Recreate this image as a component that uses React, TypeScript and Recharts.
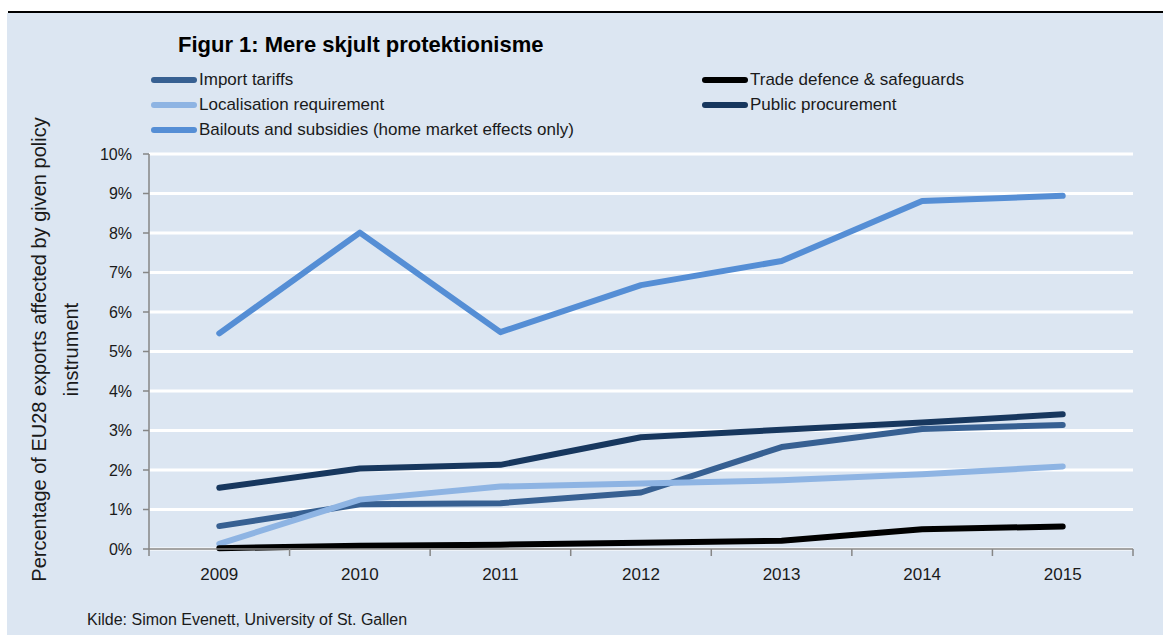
import React from 'react';
import { LineChart, Line, XAxis, YAxis, CartesianGrid } from 'recharts';

// ─── data ────────────────────────────────────────────────────────────────────
const years = [2009, 2010, 2011, 2012, 2013, 2014, 2015];
const importTariffs = [0.58, 1.13, 1.16, 1.43, 2.58, 3.04, 3.14];
const tradeDefence = [0.02, 0.08, 0.11, 0.16, 0.21, 0.5, 0.57];
const localisation = [0.13, 1.25, 1.58, 1.66, 1.74, 1.89, 2.09];
const publicProcurement = [1.55, 2.04, 2.13, 2.83, 3.02, 3.2, 3.41];
const bailouts = [5.46, 8.01, 5.49, 6.68, 7.29, 8.81, 8.94];
const yTicks = [0, 1, 2, 3, 4, 5, 6, 7, 8, 9, 10];

const series = [
  { key: 'tariffs', name: 'Import tariffs', color: '#376092', values: importTariffs },
  { key: 'defence', name: 'Trade defence & safeguards', color: '#000000', values: tradeDefence },
  { key: 'local', name: 'Localisation requirement', color: '#8EB4E3', values: localisation },
  { key: 'procure', name: 'Public procurement', color: '#17375E', values: publicProcurement },
  { key: 'bailout', name: 'Bailouts and subsidies (home market effects only)', color: '#558ED5', values: bailouts },
];

// draw order: dark lines under the lighter ones like the original
const drawOrder = ['procure', 'tariffs', 'local', 'defence', 'bailout'];

const data = years.map((y, i) => {
  const row: Record<string, number> = { year: y };
  series.forEach((s) => (row[s.key] = s.values[i]));
  return row;
});

// category boundaries get tick marks, centres get labels
const xTicks = [years[0] - 0.5, ...years.flatMap((y) => [y, y + 0.5])];

const FONT = "'Liberation Sans', Arial, sans-serif";
const TEXT = '#1a1a1a';
const AXIS = '#868686';

const XTick = (props: any) => {
  const { x, y, payload } = props;
  if (Number.isInteger(payload.value)) {
    return (
      <text x={x} y={y + 31} textAnchor="middle" fill={TEXT} fontSize={17} fontFamily={FONT}>
        {payload.value}
      </text>
    );
  }
  return <line x1={x} x2={x} y1={y} y2={y + 7} stroke={AXIS} strokeWidth={1.5} />;
};

const YLabel = (props: any) => {
  const { viewBox } = props;
  const cy = viewBox.y + viewBox.height / 2 - 2;
  return (
    <text
      transform={`translate(46, ${cy}) rotate(-90)`}
      textAnchor="middle"
      fill={TEXT}
      fontSize={20}
      fontFamily={FONT}
    >
      <tspan x={0} y={0}>Percentage of EU28 exports affected by given policy</tspan>
      <tspan x={0} y={32}>instrument</tspan>
    </text>
  );
};

const ChartLegend = () => (
  <div
    style={{
      position: 'absolute',
      left: 151,
      top: 67,
      display: 'grid',
      gridTemplateColumns: '551px 300px',
      fontFamily: FONT,
      fontSize: 17,
      color: TEXT,
    }}
  >
    {series.map((s) => (
      <div key={s.key} style={{ display: 'flex', alignItems: 'center', height: 25 }}>
        <span
          style={{
            display: 'inline-block',
            width: 46,
            height: 6,
            borderRadius: 3,
            background: s.color,
            marginRight: 2,
          }}
        />
        <span>{s.name}</span>
      </div>
    ))}
  </div>
);

export default function App() {
  return (
    <div style={{ position: 'absolute', left: 0, top: 0, width: 1163, height: 635, background: '#fff' }}>
      <div style={{ position: 'absolute', left: 8, top: 11, right: 0, height: 2, background: '#000' }} />
      <div style={{ position: 'absolute', left: 7, top: 13, right: 0, bottom: 0, background: '#DCE6F2' }} />
      <div
        style={{
          position: 'absolute',
          left: 178,
          top: 32,
          fontFamily: FONT,
          fontWeight: 'bold',
          fontSize: 22,
          color: '#000',
        }}
      >
        Figur 1: Mere skjult protektionisme
      </div>
      <ChartLegend />
      <div
        style={{
          position: 'absolute',
          left: 87,
          top: 611,
          fontFamily: FONT,
          fontSize: 16,
          color: TEXT,
        }}
      >
        Kilde: Simon Evenett, University of St. Gallen
      </div>
      <div style={{ position: 'absolute', left: 0, top: 0 }}>
        <LineChart
          width={1163}
          height={635}
          data={data}
          margin={{ top: 154, right: 30, left: 89, bottom: 56 }}
        >
          <CartesianGrid horizontal vertical={false} stroke="#FFFFFF" strokeWidth={3} />
          <XAxis
            dataKey="year"
            type="number"
            domain={[years[0] - 0.5, years[years.length - 1] + 0.5]}
            ticks={xTicks}
            interval={0}
            tickLine={false}
            tickSize={0}
            tickMargin={0}
            height={30}
            axisLine={{ stroke: AXIS, strokeWidth: 1.5 }}
            tick={<XTick />}
          />
          <YAxis
            type="number"
            domain={[0, 10]}
            ticks={yTicks}
            interval={0}
            width={60}
            tickSize={6}
            tickMargin={11}
            tickFormatter={(v: number) => `${v}%`}
            tick={{ fill: TEXT, fontSize: 16, fontFamily: FONT }}
            tickLine={{ stroke: AXIS, strokeWidth: 1.5 }}
            axisLine={{ stroke: AXIS, strokeWidth: 1.5 }}
            label={<YLabel />}
          />
          {drawOrder.map((k) => {
            const s = series.find((x) => x.key === k)!;
            return (
              <Line
                key={s.key}
                type="linear"
                dataKey={s.key}
                name={s.name}
                stroke={s.color}
                strokeWidth={6}
                strokeLinecap="round"
                strokeLinejoin="round"
                dot={false}
                activeDot={false}
                isAnimationActive={false}
              />
            );
          })}
        </LineChart>
      </div>
    </div>
  );
}
